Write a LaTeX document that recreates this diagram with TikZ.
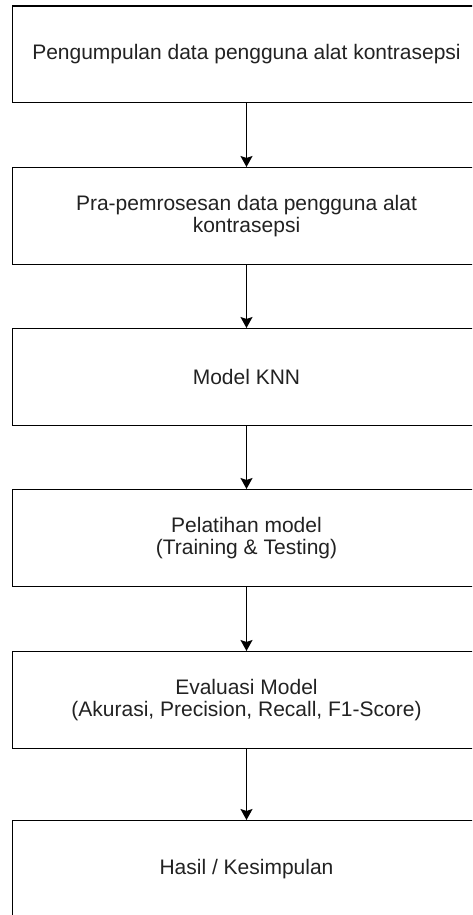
\documentclass[tikz,border=0pt]{standalone}
\usepackage{fontspec}
\setmainfont{Liberation Sans}
\usetikzlibrary{arrows.meta}
\definecolor{txt}{HTML}{222222}
\tikzset{
  stepbox/.style={draw=black, line width=1.3pt, rectangle, minimum width=468pt, minimum height=96.5pt, inner sep=0pt, align=center, text=txt, font=\fontsize{21}{21.5}\selectfont, anchor=north},
  flow/.style={draw=black, line width=1.3pt, -{Stealth[length=11pt,width=12pt,inset=2pt]}}
}
\begin{document}
\begin{tikzpicture}[x=1pt,y=-1pt]
\useasboundingbox (0,0) rectangle (472,915);
\clip (0,0) rectangle (472,915);
\node[stepbox] (a) at (246.5,5.5) {Pengumpulan data pengguna alat kontrasepsi};
\node[stepbox] (b) at (246.5,167) {Pra-pemrosesan data pengguna alat\\kontrasepsi};
\node[stepbox] (c) at (246.5,328) {Model KNN};
\node[stepbox] (d) at (246.5,489) {Pelatihan model\\(Training \& Testing)};
\node[stepbox] (e) at (246.5,651) {Evaluasi Model\\(Akurasi, Precision, Recall, F1-Score)};
\node[stepbox] (f) at (246.5,820) {Hasil / Kesimpulan};
\draw[flow] (a) -- (b);
\draw[flow] (b) -- (c);
\draw[flow] (c) -- (d);
\draw[flow] (d) -- (e);
\draw[flow] (e) -- (f);
\end{tikzpicture}
\end{document}
